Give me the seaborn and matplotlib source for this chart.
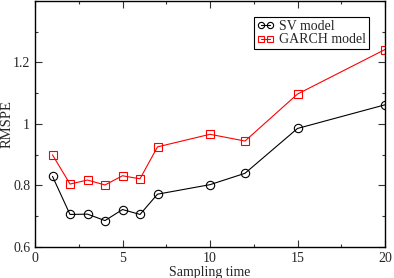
import matplotlib
matplotlib.use("Agg")
import matplotlib.pyplot as plt
import seaborn as sns
import pandas as pd
from matplotlib.ticker import MultipleLocator
from matplotlib.lines import Line2D

sampling_time = [1, 2, 3, 4, 5, 6, 7, 10, 12, 15, 20]
sv_values = [0.829, 0.705, 0.706, 0.685, 0.721, 0.705, 0.771, 0.802, 0.839, 0.985, 1.062]
garch_values = [0.899, 0.804, 0.817, 0.801, 0.831, 0.821, 0.925, 0.966, 0.944, 1.097, 1.242]
series_names = ["SV model", "GARCH model"]

df = pd.DataFrame({
    "Sampling time": sampling_time * 2,
    "RMSPE": sv_values + garch_values,
    "model": [series_names[0]] * len(sampling_time) + [series_names[1]] * len(sampling_time),
})

sns.set_style("ticks")
plt.rcParams["font.family"] = ["Liberation Serif", "DejaVu Serif"]

fig = plt.figure(figsize=(3.94, 2.78), dpi=100)
ax = fig.add_axes([35 / 394, 31.3 / 278, (385 - 35) / 394, (246.7 - 1) / 278])

sns.lineplot(
    data=df, x="Sampling time", y="RMSPE", hue="model", style="model",
    palette={"SV model": "black", "GARCH model": "#ff0000"},
    markers={"SV model": "o", "GARCH model": "s"},
    dashes=False, ax=ax, linewidth=0.8, markersize=6,
    markerfacecolor="none", markeredgewidth=0.8, legend=False,
)
for line in ax.lines:
    line.set_markerfacecolor("none")
    line.set_markeredgecolor(line.get_color())

ax.set_xlim(0, 20)
ax.set_ylim(0.6, 1.4)
ax.xaxis.set_minor_locator(MultipleLocator(2.5))
ax.yaxis.set_minor_locator(MultipleLocator(0.1))
ax.set_yticks([0.6, 0.8, 1.0, 1.2])
ax.set_yticklabels(["0.6", "0.8", "1", "1.2"])
ax.set_xticks([0, 5, 10, 15, 20])
ax.set_xticklabels(["0", "5", "10", "15", "20"])
ax.tick_params(which="both", direction="in", top=True, right=True, labelsize=10, width=0.8, color="#333333")
ax.tick_params(which="major", length=5)
ax.tick_params(which="minor", length=2.5)
for s in ax.spines.values():
    s.set_linewidth(1.0)
    s.set_color("black")
ax.set_xlabel("Sampling time", fontsize=10, labelpad=1)
ax.set_ylabel("RMSPE", fontsize=10.5)
ax.yaxis.set_label_coords(-0.06, 0.5)

handles = [
    Line2D([], [], color="black", marker="o", markersize=4.5, markerfacecolor="none",
           markeredgewidth=0.8, linewidth=0.8),
    Line2D([], [], color="#ff0000", marker="s", markersize=4, markerfacecolor="none",
           markeredgewidth=0.8, linewidth=0.8),
]
leg = ax.legend(handles, series_names, loc="upper right", bbox_to_anchor=(0.955, 0.935), fontsize=10,
                frameon=True, fancybox=False, edgecolor="black", framealpha=1, numpoints=2,
                handlelength=1.3, handletextpad=0.35, borderpad=0.2, labelspacing=0.05,
                borderaxespad=0)
leg.get_frame().set_linewidth(0.8)

fig.savefig("out.png", dpi=100)
